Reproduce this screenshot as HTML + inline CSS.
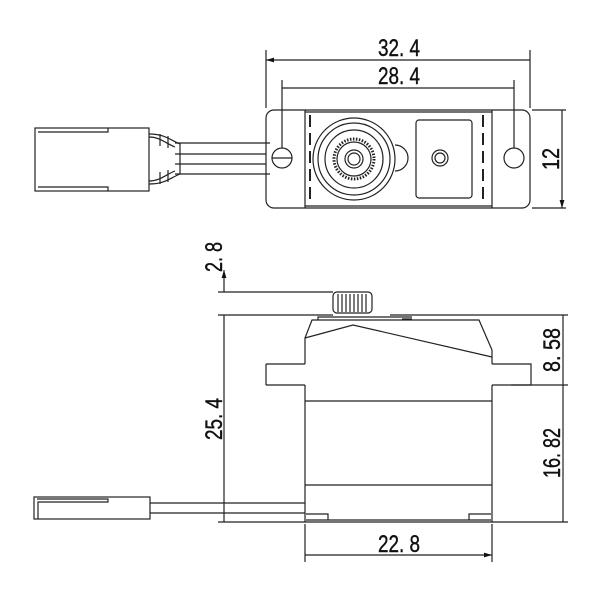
<!DOCTYPE html>
<html><head><style>body{margin:0;background:#fff}svg{display:block}text{font-family:"Liberation Sans",sans-serif;font-size:24px;fill:#111;stroke:#111;stroke-width:0.4}</style></head><body>
<svg width="600" height="600" viewBox="0 0 600 600" xmlns="http://www.w3.org/2000/svg">
<defs><marker id="a" viewBox="0 0 10 6" refX="10" refY="3" markerWidth="10" markerHeight="4" orient="auto-start-reverse"><path d="M0,0L10,3L0,6z" fill="#111"/></marker></defs>
<g stroke="#222" stroke-width="1.2" fill="none">
<rect x="266" y="110" width="264" height="98" rx="8"/>
<path d="M305 110V208M492 110V208M305 112H492M305 206H492"/>
<path d="M310 115V200M483 115V200" stroke-dasharray="12,6" stroke-width="2"/>
<circle cx="282" cy="158" r="10"/><path d="M272 158H292"/>
<circle cx="514" cy="158" r="10"/>
<path d="M395 145A13 13 0 1 1 395 171"/>
<circle cx="354" cy="159" r="41"/><circle cx="354" cy="159" r="36"/><circle cx="354" cy="159" r="29"/>
<circle cx="354" cy="159" r="20" stroke-width="3" stroke-dasharray="1.5,1.5"/><circle cx="354" cy="159" r="17"/>
<circle cx="354" cy="159" r="9"/><circle cx="354" cy="159" r="6"/>
<rect x="416" y="120" width="56" height="78" rx="3"/>
<circle cx="440" cy="158" r="8"/><circle cx="440" cy="158" r="5"/>
<rect x="35" y="128" width="114" height="63"/>
<path d="M38 132H108V128M38 187H108V191"/>
<path d="M149 134C165 134 170 140 180 144M149 137C160 137 165 143 175 147M149 184C165 184 170 178 180 174M149 181C160 181 165 175 175 171"/>
<path d="M160 134v12M168 136v12M160 184v-12M168 182v-12"/>
<path d="M175 143H270M175 154H266M175 164H266M175 174H270M180 143V174"/>
<path d="M266 108V50M530 108V50M282 148V80M514 148V80M532 110H566M532 208H566"/>
<path d="M266 60H530M282 88H514M562 110V208" marker-start="url(#a)" marker-end="url(#a)"/>
<path d="M305 364V338L312 320H479L492 350V364M305 385V522H492V385"/>
<path d="M305 338L353 325L492 357"/>
<path d="M318 320V317H412M402 319H412"/>
<path d="M266 364H305M266 385H305M266 364V385M492 364H531V385H492"/>
<path d="M305 401H492M305 485H492"/>
<rect x="333" y="292" width="39" height="21" rx="4"/>
<path d="M338 294v18M342 294v18M346 294v18M350 294v18M354 294v18M358 294v18M362 294v18M366 294v18"/>
<path d="M306 514H328V520H306M491 514H469V520H491M328 520H469"/>
<rect x="34" y="497" width="116" height="22"/>
<path d="M37 499H108V502H38V519"/>
<path d="M150 503H305M150 513H305"/>
<path d="M218 292H333M218 315H333M390 315H568M218 522H305M492 522H568M511 385H568M305 524V562M492 524V562"/>
<path d="M224 270V292M224 315V522M563 315V385M563 385V522M305 555H492" marker-start="url(#a)" marker-end="url(#a)"/>
</g>
<text x="378" y="56" textLength="42" lengthAdjust="spacingAndGlyphs">32. 4</text>
<text x="378" y="84" textLength="42" lengthAdjust="spacingAndGlyphs">28. 4</text>
<text x="378" y="552" textLength="42" lengthAdjust="spacingAndGlyphs">22. 8</text>
<text transform="translate(559 170) rotate(-90)" textLength="22" lengthAdjust="spacingAndGlyphs">12</text>
<text transform="translate(222 272) rotate(-90)" textLength="30" lengthAdjust="spacingAndGlyphs">2. 8</text>
<text transform="translate(222 440) rotate(-90)" textLength="42" lengthAdjust="spacingAndGlyphs">25. 4</text>
<text transform="translate(560 372) rotate(-90)" textLength="44" lengthAdjust="spacingAndGlyphs">8. 58</text>
<text transform="translate(560 478) rotate(-90)" textLength="50" lengthAdjust="spacingAndGlyphs">16. 82</text>
</svg>
</body></html>
